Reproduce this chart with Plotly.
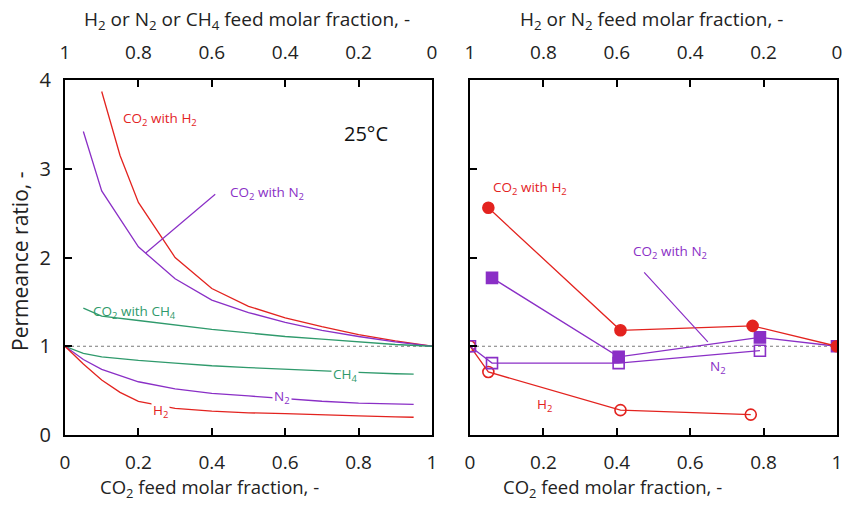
import plotly.graph_objects as go

# ---------------- data ----------------
# Left panel: model curves (x = CO2 feed molar fraction)
h2_co2_x = [0.10, 0.15, 0.20, 0.30, 0.40, 0.50, 0.60, 0.70, 0.80, 0.90, 1.00]
h2_co2_y = [3.87, 3.15, 2.62, 2.00, 1.65, 1.45, 1.32, 1.22, 1.13, 1.06, 1.00]

n2_co2_x = [0.05, 0.10, 0.20, 0.30, 0.40, 0.50, 0.60, 0.70, 0.80, 0.90, 1.00]
n2_co2_y = [3.42, 2.75, 2.12, 1.76, 1.52, 1.38, 1.27, 1.18, 1.11, 1.05, 1.00]

ch4_co2_x = [0.05, 0.10, 0.20, 0.30, 0.40, 0.50, 0.60, 0.70, 0.80, 0.90, 1.00]
ch4_co2_y = [1.43, 1.34, 1.29, 1.24, 1.19, 1.15, 1.11, 1.08, 1.05, 1.02, 1.00]

ch4_x = [0.00, 0.05, 0.10, 0.20, 0.30, 0.40, 0.50, 0.60, 0.70, 0.80, 0.90, 0.95]
ch4_y = [1.00, 0.92, 0.88, 0.84, 0.81, 0.78, 0.76, 0.74, 0.72, 0.705, 0.69, 0.685]

n2_x = [0.00, 0.05, 0.10, 0.20, 0.30, 0.40, 0.50, 0.60, 0.70, 0.80, 0.90, 0.95]
n2_y = [1.00, 0.85, 0.74, 0.60, 0.52, 0.47, 0.44, 0.41, 0.38, 0.36, 0.35, 0.345]

h2_x = [0.00, 0.05, 0.10, 0.15, 0.20, 0.30, 0.40, 0.50, 0.60, 0.70, 0.80, 0.90, 0.95]
h2_y = [1.00, 0.80, 0.62, 0.48, 0.38, 0.30, 0.27, 0.25, 0.24, 0.225, 0.215, 0.205, 0.20]

# Right panel: measured points
exp_h2_co2_x = [0.05, 0.41, 0.77, 1.00]
exp_h2_co2_y = [2.56, 1.18, 1.23, 1.00]

exp_n2_co2_x = [0.06, 0.405, 0.79, 1.00]
exp_n2_co2_y = [1.77, 0.88, 1.10, 1.00]

exp_n2_x = [0.00, 0.06, 0.405, 0.79]
exp_n2_y = [1.00, 0.81, 0.81, 0.95]

exp_h2_x = [0.00, 0.05, 0.41, 0.765]
exp_h2_y = [1.00, 0.71, 0.28, 0.23]

bottom_ticks = [0, 0.2, 0.4, 0.6, 0.8, 1]
bottom_ticktext = ["0", "0.2", "0.4", "0.6", "0.8", "1"]
top_ticks = [1, 0.8, 0.6, 0.4, 0.2, 0]
top_ticktext = ["1", "0.8", "0.6", "0.4", "0.2", "0"]
y_ticks = [0, 1, 2, 3, 4]

RED = "#e3231f"
PURPLE = "#8a2fc6"
GREEN = "#2f9a6c"
FONT = "Open Sans, DejaVu Sans, sans-serif"
INK = "#222"

fig = go.Figure()

def line(x, y, color, xa="x", ya="y"):
    fig.add_trace(go.Scatter(x=x, y=y, mode="lines", xaxis=xa, yaxis=ya,
                             line=dict(color=color, width=1.3),
                             showlegend=False, hoverinfo="skip"))

# reference line at ratio = 1
for xa, ya in (("x", "y"), ("x2", "y2")):
    fig.add_trace(go.Scatter(x=[0, 1], y=[1, 1], mode="lines", xaxis=xa, yaxis=ya,
                             line=dict(color="#7a7a7a", width=1, dash="dot"),
                             showlegend=False, hoverinfo="skip"))

line(h2_co2_x, h2_co2_y, RED)
line(n2_co2_x, n2_co2_y, PURPLE)
line(ch4_co2_x, ch4_co2_y, GREEN)
line(ch4_x, ch4_y, GREEN)
line(n2_x, n2_y, PURPLE)
line(h2_x, h2_y, RED)

def pts(x, y, color, symbol, xa="x2", ya="y2"):
    fig.add_trace(go.Scatter(
        x=x, y=y, mode="lines+markers", xaxis=xa, yaxis=ya,
        line=dict(color=color, width=1.3),
        marker=dict(symbol=symbol, size=11,
                    color=color, line=dict(color=color, width=1.6)),
        showlegend=False, hoverinfo="skip"))

pts(exp_h2_x, exp_h2_y, RED, "circle-open")
pts(exp_n2_x, exp_n2_y, PURPLE, "square-open")
pts(exp_n2_co2_x, exp_n2_co2_y, PURPLE, "square")
pts(exp_h2_co2_x, exp_h2_co2_y, RED, "circle")

# invisible traces so the reversed top axes are drawn
for xa, ya in (("x3", "y"), ("x4", "y2")):
    fig.add_trace(go.Scatter(x=[0, 1], y=[None, None], xaxis=xa, yaxis=ya,
                             mode="markers", showlegend=False, hoverinfo="skip"))

H, W = 505, 844
y_dom = [(H - 435) / H, (H - 80) / H]
left_dom = [65 / W, 432 / W]
right_dom = [470 / W, 837 / W]

ax_common = dict(showline=True, linecolor="black", linewidth=2, mirror=True,
                 ticks="inside", ticklen=7, tickwidth=2, tickcolor="black",
                 showgrid=False, zeroline=False, automargin=False)

bottom_x = dict(range=[0, 1], tickvals=bottom_ticks, ticktext=bottom_ticktext,
                tickfont=dict(family=FONT, size=19, color=INK),
                ticklabelstandoff=9, **ax_common)
top_x = dict(range=[1, 0], tickvals=top_ticks, ticktext=top_ticktext, side="top",
             tickfont=dict(family=FONT, size=19, color=INK),
             ticklabelstandoff=16, showline=False, ticks="inside", ticklen=7,
             tickwidth=2, tickcolor="black", showgrid=False, zeroline=False,
             automargin=False)

fig.update_layout(
    width=W, height=H, margin=dict(l=0, r=0, t=0, b=0, autoexpand=False),
    paper_bgcolor="white", plot_bgcolor="white", showlegend=False,
    xaxis=dict(domain=left_dom, anchor="y", **bottom_x),
    xaxis2=dict(domain=right_dom, anchor="y2", **bottom_x),
    xaxis3=dict(overlaying="x", anchor="y", **top_x),
    xaxis4=dict(overlaying="x2", anchor="y2", **top_x),
    yaxis=dict(domain=y_dom, anchor="x", range=[0, 4], tickvals=y_ticks,
               tickfont=dict(family=FONT, size=20, color=INK),
               ticklabelstandoff=8, **ax_common),
    yaxis2=dict(domain=y_dom, anchor="x2", range=[0, 4], tickvals=y_ticks,
                showticklabels=False, **ax_common),
)

ann = []

def txt(x, y, text, color, size=13.5, xref="x", yref="y", bg=None):
    a = dict(x=x, y=y, xref=xref, yref=yref, text=text, showarrow=False,
             xanchor="center", yanchor="middle",
             font=dict(family=FONT, size=size, color=color))
    if bg:
        a.update(bgcolor=bg, borderpad=1)
    ann.append(a)

# left panel labels
txt(0.259, 3.56, "CO<sub>2</sub> with H<sub>2</sub>", RED)
txt(0.55, 2.73, "CO<sub>2</sub> with N<sub>2</sub>", PURPLE)
txt(0.82, 3.40, "25°C", "#111", size=20)
txt(0.188, 1.39, "CO<sub>2</sub> with CH<sub>4</sub>", GREEN)
txt(0.763, 0.68, "CH<sub>4</sub>", GREEN, bg="white")
txt(0.59, 0.43, "N<sub>2</sub>", PURPLE, bg="white")
txt(0.259, 0.27, "H<sub>2</sub>", RED, bg="white")

# right panel labels
txt(0.163, 2.78, "CO<sub>2</sub> with H<sub>2</sub>", RED, xref="x2", yref="y2")
txt(0.545, 2.06, "CO<sub>2</sub> with N<sub>2</sub>", PURPLE, xref="x2", yref="y2")
txt(0.676, 0.77, "N<sub>2</sub>", PURPLE, xref="x2", yref="y2")
txt(0.204, 0.34, "H<sub>2</sub>", RED, xref="x2", yref="y2")

# leader lines for the N2 mixture labels
ann.append(dict(x=0.22, y=2.05, xref="x", yref="y", ax=71, ay=-60, text="",
                showarrow=True, arrowhead=0, arrowwidth=1.2, arrowcolor=PURPLE))
ann.append(dict(x=0.648, y=1.05, xref="x2", yref="y2", ax=-65, ay=-71, text="",
                showarrow=True, arrowhead=0, arrowwidth=1.2, arrowcolor=PURPLE))

# axis titles
txt(209 / W, (H - 488) / H, "CO<sub>2</sub> feed molar fraction, -", INK, size=18.5,
    xref="paper", yref="paper")
txt(612 / W, (H - 488) / H, "CO<sub>2</sub> feed molar fraction, -", INK, size=18.5,
    xref="paper", yref="paper")
txt(247 / W, (H - 20) / H, "H<sub>2</sub> or N<sub>2</sub> or CH<sub>4</sub> feed molar fraction, -",
    INK, size=19, xref="paper", yref="paper")
txt(651 / W, (H - 20) / H, "H<sub>2</sub> or N<sub>2</sub> feed molar fraction, -",
    INK, size=19, xref="paper", yref="paper")
ann.append(dict(x=20 / W, y=(H - 262) / H, xref="paper", yref="paper",
                xanchor="center", yanchor="middle",
                text="Permeance ratio, -", showarrow=False, textangle=-90,
                font=dict(family=FONT, size=21, color=INK)))

fig.update_layout(annotations=ann)
fig.write_html("out.html")
